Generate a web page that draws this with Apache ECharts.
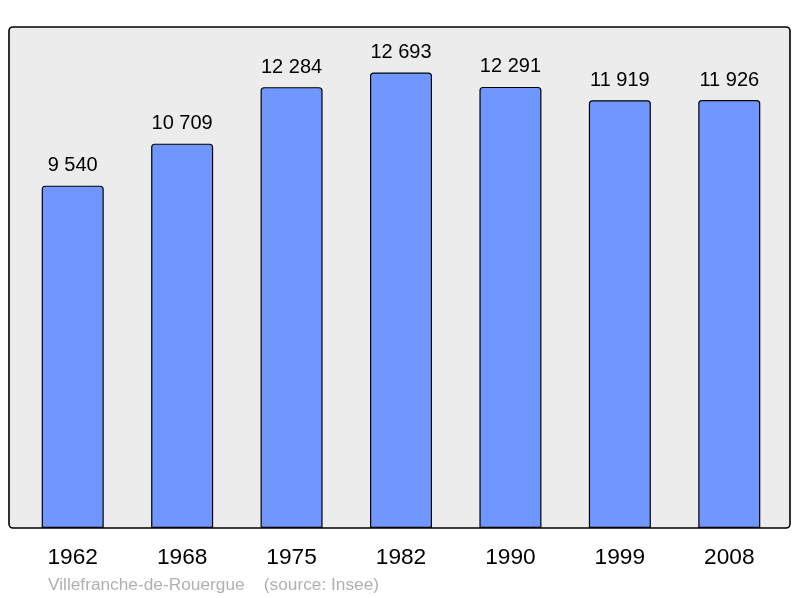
<!DOCTYPE html>
<html>
<head>
<meta charset="utf-8">
<script src="https://cdn.jsdelivr.net/npm/echarts@6/dist/echarts.min.js"></script>
<style>
html,body{margin:0;padding:0;background:#fff;}
#main{width:800px;height:598px;}
</style>
</head>
<body>
<div id="main"></div>
<script>
const years = ['1962','1968','1975','1982','1990','1999','2008'];
const population = [9540, 10709, 12284, 12693, 12291, 11919, 11926];
const caption = 'Villefranche-de-Rouergue    (source: Insee)';

function fmt(v){ return String(v).replace(/\B(?=(\d{3})+(?!\d))/g, ' '); }

const chart = echarts.init(document.getElementById('main'), null, {renderer:'canvas'});
chart.setOption({
  animation: false,
  backgroundColor: '#ffffff',
  textStyle: { fontFamily: 'Liberation Sans' },
  grid: { left: 18, right: 16, top: 27, bottom: 70, containLabel: false },
  xAxis: {
    type: 'category',
    data: years,
    axisLine: { show: false },
    axisTick: { show: false },
    axisLabel: { color: '#000', fontSize: 22.7, fontFamily: 'Liberation Sans', margin: 18.5 }
  },
  yAxis: {
    type: 'value',
    min: 0,
    max: 13960,
    show: false,
    splitLine: { show: false }
  },
  series: [{
    type: 'bar',
    data: population,
    barWidth: 62,
    z: 5,
    itemStyle: { color: '#7097ff', borderColor: '#000', borderWidth: 1.2, borderRadius: [3,3,0,0] },
    label: {
      show: true,
      position: 'top',
      distance: 10,
      color: '#000',
      fontSize: 20,
      fontFamily: 'Liberation Sans',
      formatter: p => fmt(p.value)
    }
  }],
  graphic: [
    { type: 'rect', z: -10, shape: { x: 9, y: 27, width: 781, height: 501, r: 4 }, style: { fill: '#ececec', stroke: 'none' } },
    { type: 'rect', z: 100, shape: { x: 9, y: 27, width: 781, height: 501, r: 4 }, style: { fill: 'none', stroke: '#000', lineWidth: 1.6 } },
    { type: 'text', z: 100, left: 48, top: 577, style: { text: caption, fill: '#b0b0b0', fontSize: 17.3, fontFamily: 'Liberation Sans' } }
  ]
});
</script>
</body>
</html>
